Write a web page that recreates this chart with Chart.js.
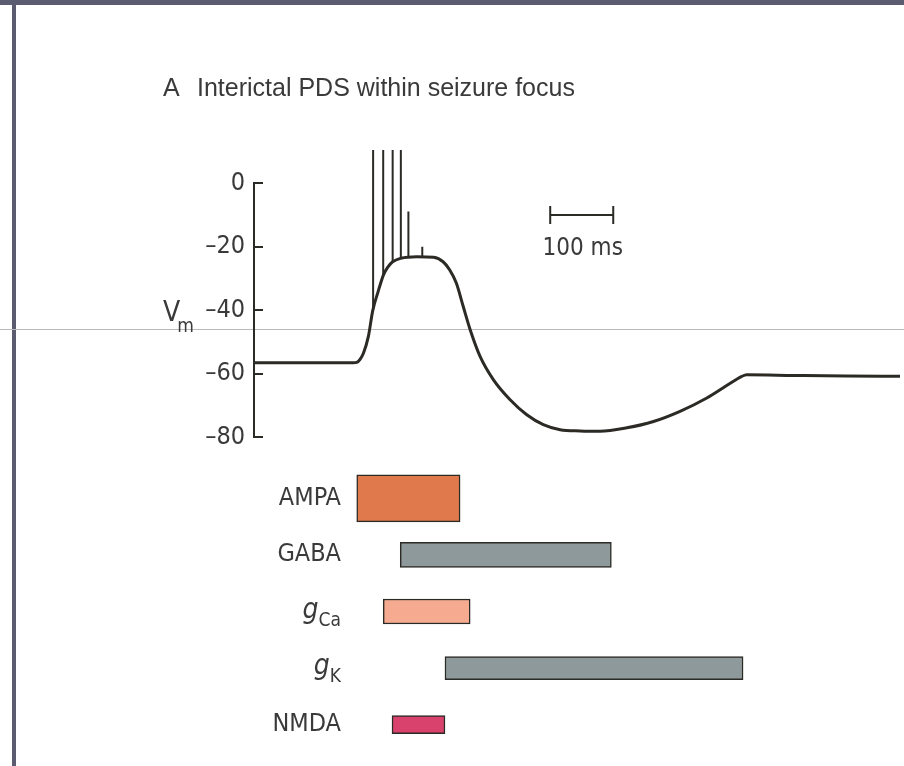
<!DOCTYPE html>
<html>
<head>
<meta charset="utf-8">
<script src="https://cdn.jsdelivr.net/npm/chart.js@4.4.1/dist/chart.umd.min.js"></script>
<style>
  html, body { margin: 0; padding: 0; background: #ffffff; }
  body { width: 904px; height: 766px; position: relative; overflow: hidden; }
  #frameTop { position: absolute; left: 0; top: 0; width: 904px; height: 5px; background: #5b5c6f; }
  #frameLeft { position: absolute; left: 12px; top: 0; width: 4px; height: 766px; background: #5b5c6f; }
  #fold { position: absolute; left: 0; top: 329px; width: 904px; height: 1px; background: #b9b9b9; }
  canvas { position: absolute; left: 0; top: 0; }
</style>
</head>
<body>
<div id="frameLeft"></div>
<div id="frameTop"></div>
<div id="fold"></div>
<canvas id="trace" width="904" height="766"></canvas>
<canvas id="bars" width="904" height="766"></canvas>
<script>
// ---- text ----
const titleLetter = 'A';
const titleText = 'Interictal PDS within seizure focus';
const yAxisLabel = 'V_m';

// ---- axes ----
const mvMin = -80;
const mvMax = 0;
const mvStep = 20;
const timeMinMs = 0;
const timeMaxMs = 1025;

// ---- membrane potential trace (time in ms, Vm in mV) ----
const traceTimeMs = [0, 60, 120, 158, 163, 168, 173.6, 181.5, 188.4, 196.8, 205.3, 212, 220, 233, 258, 285,
  300, 310.6, 321, 332, 343, 358.7, 380, 406, 432.8, 459, 485.7, 517.5, 549, 591.6, 633.8, 676, 718.5,
  750, 774, 782, 856, 940, 1025];
const traceMv = [-56.6, -56.6, -56.6, -56.6, -56.5, -55.6, -53.6, -48.3, -40.2, -34.3, -29.0, -26.6, -24.8, -23.7, -23.2, -23.4,
  -24.8, -27.4, -31.5, -38.9, -46.2, -54.6, -62, -68.2, -73, -76.1, -77.7, -78.1, -78.2, -77.1, -75.1, -71.9, -67.7,
  -63.8, -60.9, -60.4, -60.6, -60.8, -60.9];

// ---- action potentials riding on the depolarization ----
const spikeTimeMs = [189, 205, 220, 233, 245, 267];
const spikeBaseMv = [-39.8, -29.0, -24.8, -23.7, -23.4, -23.2];
const spikePeakMv = [10.4, 10.4, 10.4, 10.4, -9.0, -20.1];

// ---- time scale bar ----
const scaleBarStartMs = 470;
const scaleBarLengthMs = 100;
const scaleBarLevelMv = -10;
const scaleBarLabel = '100 ms';

// ---- conductance activation periods ----
const channelLabels = ['AMPA', 'GABA', 'g_Ca', 'g_K', 'NMDA'];
const channelOnMs = [163, 232, 205, 303, 219];
const channelOffMs = [327, 567, 343, 776, 303];

// ---- styles ----
const channelColors = ['#e07a4c', '#8e999b', '#f6aa90', '#8e999b', '#d8426d'];
const channelThickness = [47, 25, 25, 23, 18];
const INK = '#2b2a25';
const TEXT = '#3a3a3a';
const FONT_NARROW = "'Liberation Sans Narrow', 'Arial Narrow', 'DejaVu Sans Condensed', sans-serif";
const FONT_REG = "'Liberation Sans', Arial, sans-serif";

// draws "main_sub" as main text with a lowered, smaller subscript
function drawSubscripted(ctx, label, x, yBase, align, mainSize, subSize, drop, gap, italicMain) {
  const parts = label.split('_');
  const main = parts[0];
  const sub = parts[1] || '';
  const mainFont = (italicMain ? 'italic ' : '') + mainSize + 'px ' + FONT_NARROW;
  const subFont = subSize + 'px ' + FONT_NARROW;
  ctx.font = mainFont;
  const wMain = ctx.measureText(main).width;
  ctx.font = subFont;
  const wSub = sub ? ctx.measureText(sub).width : 0;
  const left = align === 'right' ? x - wMain - gap - wSub : x;
  ctx.textAlign = 'left';
  ctx.textBaseline = 'alphabetic';
  ctx.font = mainFont;
  ctx.fillText(main, left, yBase);
  if (sub) {
    ctx.font = subFont;
    ctx.fillText(sub, left + wMain + gap, yBase + drop);
  }
}

// ---- trace chart decorations: inward ticks, title, axis label, scale bar ----
const traceDecor = {
  id: 'traceDecor',
  afterDraw(chart) {
    const ctx = chart.ctx;
    const xs = chart.scales.x;
    const ys = chart.scales.y;
    ctx.save();
    ctx.strokeStyle = INK;
    ctx.lineWidth = 2;
    const left = chart.chartArea.left;
    ys.ticks.forEach(t => {
      const y = Math.round(ys.getPixelForValue(t.value));
      ctx.beginPath();
      ctx.moveTo(left, y);
      ctx.lineTo(left + 9, y);
      ctx.stroke();
    });
    ctx.fillStyle = TEXT;
    ctx.textAlign = 'left';
    ctx.textBaseline = 'alphabetic';
    ctx.font = '25px ' + FONT_REG;
    ctx.fillText(titleLetter, 163, 96);
    ctx.fillText(titleText, 197, 96);
    drawSubscripted(ctx, yAxisLabel, 163, ys.getPixelForValue(-40) + 11, 'left', 28, 19, 11, -3, false);
    const x1 = xs.getPixelForValue(scaleBarStartMs);
    const x2 = xs.getPixelForValue(scaleBarStartMs + scaleBarLengthMs);
    const yb = Math.round(ys.getPixelForValue(scaleBarLevelMv));
    ctx.strokeStyle = INK;
    ctx.lineWidth = 2;
    ctx.beginPath();
    ctx.moveTo(x1, yb); ctx.lineTo(x2, yb);
    ctx.moveTo(x1, yb - 9); ctx.lineTo(x1, yb + 9);
    ctx.moveTo(x2, yb - 9); ctx.lineTo(x2, yb + 9);
    ctx.stroke();
    ctx.fillStyle = TEXT;
    ctx.font = '24px ' + FONT_NARROW;
    ctx.textAlign = 'center';
    ctx.fillText(scaleBarLabel, (x1 + x2) / 2 + 1, yb + 40);
    ctx.restore();
  }
};

const tracePoints = traceTimeMs.map((t, i) => ({ x: t, y: traceMv[i] }));
const spikePoints = [];
spikeTimeMs.forEach((t, i) => {
  spikePoints.push({ x: t, y: spikeBaseMv[i] });
  spikePoints.push({ x: t, y: spikePeakMv[i] });
  spikePoints.push({ x: t, y: null });
});

new Chart(document.getElementById('trace'), {
  type: 'line',
  data: {
    datasets: [
      {
        label: 'Vm',
        data: tracePoints,
        borderColor: INK,
        borderWidth: 3,
        pointRadius: 0,
        cubicInterpolationMode: 'monotone',
        borderJoinStyle: 'round',
        clip: false
      },
      {
        label: 'spikes',
        data: spikePoints,
        borderColor: INK,
        borderWidth: 2,
        pointRadius: 0,
        tension: 0,
        spanGaps: false,
        clip: false
      }
    ]
  },
  options: {
    responsive: false,
    animation: false,
    events: [],
    layout: { padding: { left: 154, top: 183, right: 4, bottom: 329 } },
    plugins: { legend: { display: false }, tooltip: { enabled: false }, title: { display: false } },
    scales: {
      x: { type: 'linear', min: timeMinMs, max: timeMaxMs, display: false },
      y: {
        type: 'linear',
        min: mvMin,
        max: mvMax,
        grid: { display: false, drawTicks: false },
        border: { display: true, color: INK, width: 2 },
        ticks: {
          stepSize: mvStep,
          color: TEXT,
          padding: 9,
          font: { family: FONT_NARROW, size: 25 },
          callback: v => (v < 0 ? '\u2013' + Math.abs(v) : String(v))
        },
        afterFit(scale) { scale.width = 100; }
      }
    }
  },
  plugins: [traceDecor]
});

// ---- conductance bars ----
const channelLabelPlugin = {
  id: 'channelLabels',
  afterDraw(chart) {
    const ctx = chart.ctx;
    const ys = chart.scales.y;
    ctx.save();
    ctx.fillStyle = TEXT;
    channelLabels.forEach((lab, i) => {
      const yc = ys.getPixelForValue(i);
      if (lab.indexOf('_') >= 0) {
        drawSubscripted(ctx, lab, 341, yc + 6, 'right', 28, 19, 8, 0, true);
      } else {
        ctx.font = '25px ' + FONT_NARROW;
        ctx.textAlign = 'right';
        ctx.textBaseline = 'middle';
        ctx.fillText(lab, 341, yc);
      }
    });
    ctx.restore();
  }
};

new Chart(document.getElementById('bars'), {
  type: 'bar',
  data: {
    labels: channelLabels,
    datasets: channelLabels.map((name, i) => ({
      label: name,
      data: channelLabels.map((_, j) => (j === i ? [channelOnMs[i], channelOffMs[i]] : null)),
      backgroundColor: channelColors[i],
      borderColor: INK,
      borderWidth: 1.5,
      borderSkipped: false,
      barThickness: channelThickness[i],
      grouped: false
    }))
  },
  options: {
    indexAxis: 'y',
    responsive: false,
    animation: false,
    events: [],
    layout: { padding: { left: 254, top: 470, right: 4, bottom: 13 } },
    plugins: { legend: { display: false }, tooltip: { enabled: false } },
    scales: {
      x: { type: 'linear', min: timeMinMs, max: timeMaxMs, display: false },
      y: { type: 'category', display: false, offset: true }
    }
  },
  plugins: [channelLabelPlugin]
});
</script>
</body>
</html>
